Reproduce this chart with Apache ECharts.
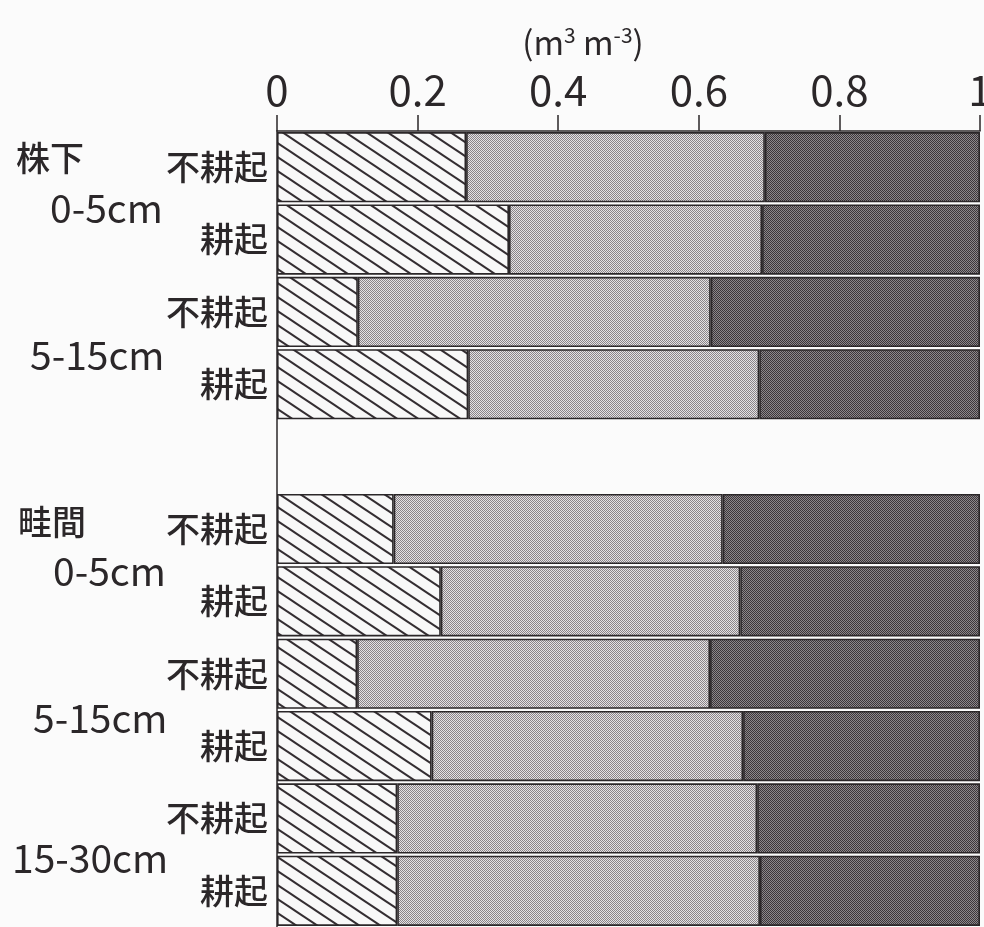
<!DOCTYPE html>
<html>
<head>
<meta charset="utf-8">
<script src="https://cdn.jsdelivr.net/npm/echarts@6/dist/echarts.min.js"></script>
<style>
  html, body { margin: 0; padding: 0; background: #fbfbfb; }
  #chart { width: 984px; height: 927px; }
</style>
</head>
<body>
<div id="chart"></div>
<script>
// Row labels (top to bottom); the empty row separates the two positions.
const rowLabels = ['不耕起', '耕起', '不耕起', '耕起', '', '不耕起', '耕起', '不耕起', '耕起', '不耕起', '耕起'];

// Volumetric fractions (m3 m-3) of the three components of each row.
const part1 = [0.269, 0.330, 0.115, 0.272, '-', 0.166, 0.233, 0.114, 0.220, 0.171, 0.171];
const part2 = [0.425, 0.360, 0.502, 0.414, '-', 0.468, 0.426, 0.502, 0.443, 0.512, 0.516];
const part3 = [0.306, 0.310, 0.383, 0.314, '-', 0.366, 0.341, 0.384, 0.337, 0.317, 0.313];

// Axis ticks
const xTicks = [0, 0.2, 0.4, 0.6, 0.8, 1];

// Group captions at the left side
const groupCaptions = [
  { text: '株下', left: 16, y: 158, size: 34, weight: 500 },
  { text: '0-5cm', left: 50, y: 208, size: 39, weight: 'normal' },
  { text: '5-15cm', left: 30, y: 355, size: 39, weight: 'normal' },
  { text: '畦間', left: 18, y: 522, size: 34, weight: 500 },
  { text: '0-5cm', left: 53, y: 571, size: 39, weight: 'normal' },
  { text: '5-15cm', left: 33, y: 718, size: 39, weight: 'normal' },
  { text: '15-30cm', left: 12, y: 858, size: 39, weight: 'normal' }
];

const INK = '#2b2729';
const FONT = '"Noto Sans CJK JP", "Noto Sans", sans-serif';

// Diagonal hatching tile
function hatchPattern() {
  const w = 21, h = 14;
  const c = document.createElement('canvas');
  c.width = w; c.height = h;
  const ctx = c.getContext('2d');
  ctx.fillStyle = '#f8f8f8';
  ctx.fillRect(0, 0, w, h);
  ctx.strokeStyle = '#342e32';
  ctx.lineWidth = 2;
  for (const dx of [-w, 0, w]) {
    ctx.beginPath();
    ctx.moveTo(dx - w, -h);
    ctx.lineTo(dx + 2 * w, 2 * h);
    ctx.stroke();
  }
  return c;
}

// Halftone-like checker tile
function dotPattern(dark, light) {
  const c = document.createElement('canvas');
  c.width = 2; c.height = 2;
  const ctx = c.getContext('2d');
  ctx.fillStyle = light;
  ctx.fillRect(0, 0, 2, 2);
  ctx.fillStyle = dark;
  ctx.fillRect(0, 0, 1, 1);
  ctx.fillRect(1, 1, 1, 1);
  return c;
}

const fills = [
  { image: hatchPattern(), repeat: 'repeat' },
  { image: dotPattern('#8a8488', '#e4e2e4'), repeat: 'repeat' },
  { image: dotPattern('#3c363a', '#8c888b'), repeat: 'repeat' }
];

const chart = echarts.init(document.getElementById('chart'), null, { renderer: 'canvas' });

function barSeries(data, fill) {
  return {
    type: 'bar',
    stack: 'total',
    data: data,
    barCategoryGap: '3%',
    itemStyle: { color: fill, borderColor: INK, borderWidth: 1.6 },
    emphasis: { disabled: true },
    animation: false
  };
}

const option = {
  backgroundColor: '#fbfbfb',
  animation: false,
  grid: { left: 277, right: 4, top: 131, bottom: 0, containLabel: false, outerBoundsMode: 'none' },
  xAxis: {
    type: 'value',
    position: 'top',
    min: xTicks[0],
    max: xTicks[xTicks.length - 1],
    interval: xTicks[1] - xTicks[0],
    axisLine: { show: true, lineStyle: { color: INK, width: 1.5 } },
    axisTick: { show: true, length: 16, inside: false, lineStyle: { color: INK, width: 1.5 } },
    axisLabel: { fontSize: 42, margin: 20, color: INK, fontFamily: FONT },
    splitLine: { show: false }
  },
  yAxis: {
    type: 'category',
    inverse: true,
    data: rowLabels,
    axisLine: { show: true, lineStyle: { color: INK, width: 1.5 } },
    axisTick: { show: false },
    axisLabel: { fontSize: 34, fontWeight: 500, margin: 9, color: INK, fontFamily: FONT, padding: [4, 0, 0, 0] }
  },
  series: [
    barSeries(part1, fills[0]),
    barSeries(part2, fills[1]),
    barSeries(part3, fills[2])
  ],
  graphic: [
    {
      type: 'text',
      x: 583,
      y: 42,
      style: {
        text: '(m{sup|3} m{sup|-3})',
        font: '33px ' + FONT,
        fill: INK,
        align: 'center',
        verticalAlign: 'middle',
        rich: {
          sup: { fontSize: 21, fontFamily: FONT, fill: INK, verticalAlign: 'top', padding: [0, 0, 13, 0] }
        }
      }
    }
  ].concat(groupCaptions.map(g => ({
    type: 'text',
    x: g.left,
    y: g.y,
    style: {
      text: g.text,
      font: g.weight + ' ' + g.size + 'px ' + FONT,
      fill: INK,
      align: 'left',
      verticalAlign: 'middle'
    }
  })))
};

chart.setOption(option);
</script>
</body>
</html>
